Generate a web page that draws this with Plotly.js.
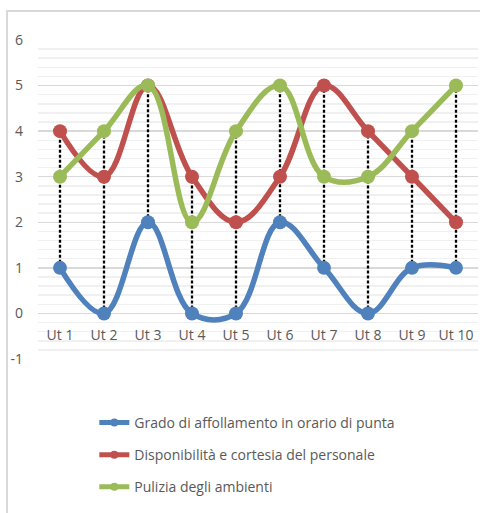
<!DOCTYPE html>
<html><head><meta charset="utf-8">
<script src="https://cdn.plot.ly/plotly-3.0.1.min.js"></script>
<style>html,body{margin:0;padding:0;background:#fff}#chart{width:480px;height:513px}</style>
</head><body><div id="chart"></div>
<script>
const categories = ["Ut 1","Ut 2","Ut 3","Ut 4","Ut 5","Ut 6","Ut 7","Ut 8","Ut 9","Ut 10"];
const affollamento = [1,0,2,0,0,2,1,0,1,1];
const disponibilita = [4,3,5,3,2,3,5,4,3,2];
const pulizia = [3,4,5,2,4,5,3,3,4,5];
const seriesNames = ["Grado di affollamento in orario di punta","Disponibilità e cortesia del personale","Pulizia degli ambienti"];
const seriesColors = ["#4F81BD","#C0504D","#9BBB59"];
const yTicks = [-1,0,1,2,3,4,5,6];

const allSeries = [affollamento, disponibilita, pulizia];
// high-low lines
const hlX = [], hlY = [];
categories.forEach((c,i)=>{
  const vals = allSeries.map(s=>s[i]);
  hlX.push(c,c,null);
  hlY.push(Math.min(...vals),Math.max(...vals),null);
});
const traces = [{
  x: hlX, y: hlY, mode:'lines', type:'scatter', showlegend:false, hoverinfo:'skip',
  line:{color:'#000', width:2.3, dash:'3px,2px'}
}];
allSeries.forEach((s,k)=>{
  traces.push({
    x: categories, y: s, name: seriesNames[k], type:'scatter', mode:'lines+markers',
    showlegend:false,
    line:{color:seriesColors[k], width:5.5, shape:'spline', smoothing:1.1},
    marker:{color:seriesColors[k], size:14}
  });
});
// legend entries (smaller symbol like the original)
allSeries.forEach((s,k)=>{
  traces.push({
    x:[null], y:[null], name: seriesNames[k], type:'scatter', mode:'lines+markers',
    legendgroup:'g'+k,
    line:{color:seriesColors[k], width:5},
    marker:{color:seriesColors[k], size:8}
  });
});
const font = {family:'"Open Sans", "Liberation Sans", sans-serif', size:14, color:'#595959'};
const layout = {
  width:480, height:513,
  margin:{l:38, r:2, t:40, b:154},
  paper_bgcolor:'#fff', plot_bgcolor:'#fff',
  font: font,
  showlegend:true,
  legend:{x:0.128, y:-0.15, xanchor:'left', yanchor:'top', orientation:'v',
    tracegroupgap:11, font:font, bgcolor:'rgba(0,0,0,0)'},
  xaxis:{type:'category', categoryarray:categories, range:[-0.5,9.5],
    anchor:'free', position:1/7, showgrid:false, showline:false, zeroline:false,
    ticks:'', ticklabelstandoff:12, tickfont:font, fixedrange:true},
  yaxis:{range:[-1,6], tickvals:yTicks, ticktext:yTicks.map(String),
    showgrid:true, gridcolor:'#D9D9D9', gridwidth:1.5, zeroline:false, showline:false,
    ticks:'', ticklabelstandoff:14, tickfont:font,
    minor:{dtick:0.2, showgrid:true, gridcolor:'#F0F0F0', gridwidth:1.5}},
  shapes:[{type:'rect', xref:'paper', yref:'paper', x0:-0.0705, x1:1.01, y0:-0.52, y1:1.091,
    line:{color:'#D9D9D9', width:2}, fillcolor:'rgba(0,0,0,0)', layer:'below'}]
};
Plotly.newPlot('chart', traces, layout, {displayModeBar:false, staticPlot:true});
</script></body></html>
